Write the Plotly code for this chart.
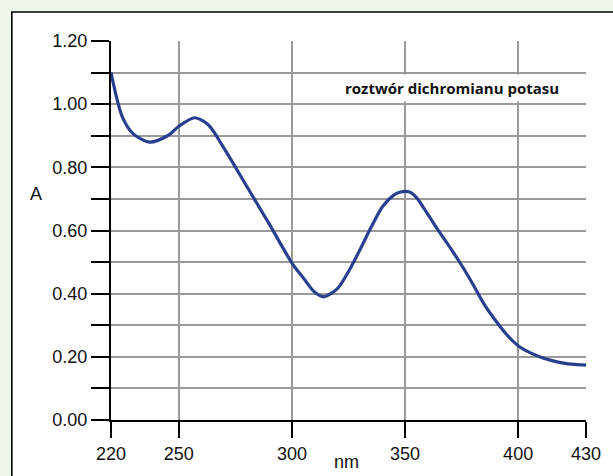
import plotly.graph_objects as go

wavelength = [220, 225, 230, 237, 245, 250, 257, 263, 270, 280, 290, 300, 305, 310, 314,
              320, 325, 330, 335, 340, 345, 348, 352, 355, 360, 365, 370, 375, 380, 385, 390,
              395, 400, 405, 410, 415, 420, 425, 430]
absorbance = [1.10, 0.96, 0.905, 0.88, 0.90, 0.93, 0.957, 0.935, 0.86, 0.74, 0.62, 0.497,
              0.45, 0.405, 0.39, 0.415, 0.47, 0.538, 0.61, 0.675, 0.712, 0.722, 0.722, 0.705,
              0.652, 0.597, 0.545, 0.49, 0.43, 0.366, 0.315, 0.27, 0.235, 0.214, 0.199,
              0.188, 0.18, 0.176, 0.174]

x_ticks = [220, 250, 300, 350, 400, 430]
y_ticks = [0.0, 0.1, 0.2, 0.3, 0.4, 0.5, 0.6, 0.7, 0.8, 0.9, 1.0, 1.1, 1.2]
y_ticktext = ["0.00", "", "0.20", "", "0.40", "", "0.60", "", "0.80", "", "1.00", "", "1.20"]

title_text = "roztwór dichromianu potasu"
x_label = "nm"
y_label = "A"

fig = go.Figure()
fig.add_trace(go.Scatter(
    x=wavelength, y=absorbance, mode="lines",
    line=dict(color="#283f8e", width=3.2, shape="spline", smoothing=0.8),
    hoverinfo="skip", showlegend=False,
))

font_main = dict(family="Liberation Sans, Arial, sans-serif", size=18, color="#111111")

fig.update_xaxes(
    range=[220, 430], tickvals=x_ticks, ticktext=[str(v) for v in x_ticks],
    ticks="outside", ticklen=16, tickwidth=2, tickcolor="black",
    showline=True, linecolor="black", linewidth=2.2,
    showgrid=True, gridcolor="#9a9a9a", gridwidth=1.6,
    zeroline=False, tickfont=font_main,
)
fig.update_yaxes(
    range=[0, 1.2], tickvals=y_ticks, ticktext=y_ticktext,
    ticks="outside", ticklen=18, tickwidth=2, tickcolor="black",
    showline=True, linecolor="black", linewidth=2.2,
    showgrid=True, gridcolor="#9a9a9a", gridwidth=1.6,
    zeroline=False, tickfont=font_main,
)

fig.add_shape(type="rect", xref="paper", yref="paper",
              x0=-0.2088, x1=1.5, y0=-0.6, y1=1.0765,
              line=dict(color="black", width=1.6), fillcolor="white", layer="below")

fig.add_annotation(x=370.7, y=1.051, xref="x", yref="y", text="<b>" + title_text + "</b>",
                   showarrow=False, bgcolor="white", borderpad=3,
                   font=dict(family="Open Sans, sans-serif", size=15, color="#111111"))
fig.add_annotation(x=-0.157, y=0.595, xref="paper", yref="paper", text=y_label,
                   showarrow=False, xanchor="center", yanchor="middle",
                   font=font_main)
fig.add_annotation(x=0.496, y=-0.11, xref="paper", yref="paper", text=x_label,
                   showarrow=False, xanchor="center", yanchor="middle",
                   font=font_main)

fig.update_layout(
    width=613, height=476,
    margin=dict(l=111, r=23, t=41, b=56),
    paper_bgcolor="#eef6eb", plot_bgcolor="white",
    showlegend=False,
)

fig.write_html(
    "out.html",
    config={"displayModeBar": False},
    post_script="document.body.style.margin='0';document.body.style.overflow='hidden';"
                "document.body.style.background='#eef6eb';",
)
